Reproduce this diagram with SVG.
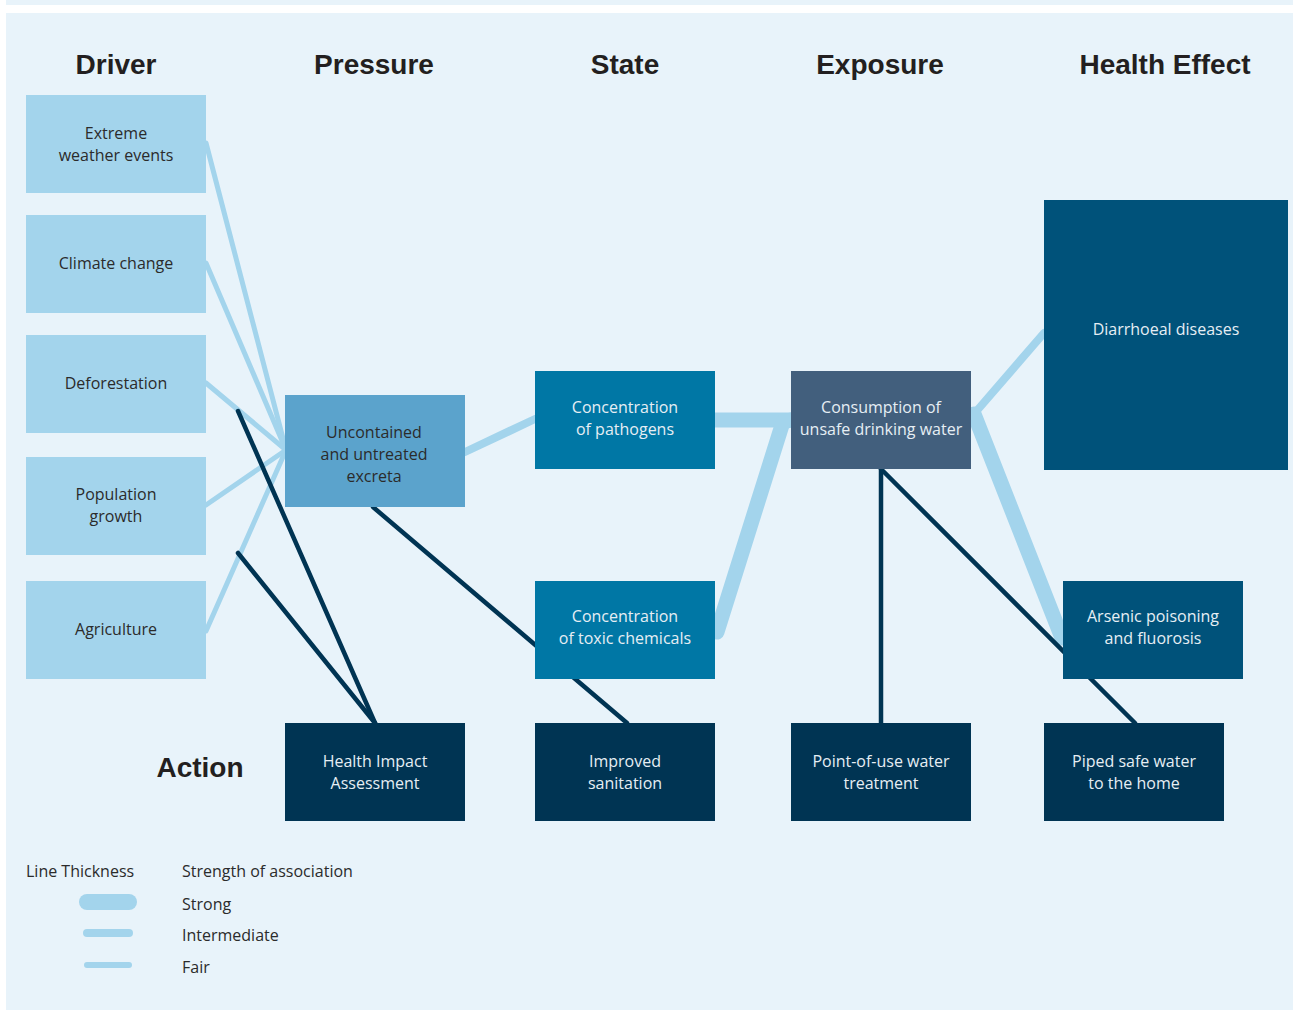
<svg xmlns="http://www.w3.org/2000/svg" width="1293" height="1010" viewBox="0 0 1293 1010">
<style>
.hdr{font-family:"Liberation Sans",Arial,sans-serif;font-weight:bold;font-size:28px;fill:#231f20;text-anchor:middle}
.t{font-family:"Open Sans","Liberation Sans",sans-serif;font-size:16px;text-anchor:middle}
.dk{fill:#2b2b2b}
.lt{fill:#e6eef4}
.leg{font-family:"Open Sans","Liberation Sans",sans-serif;font-size:16px;fill:#2b2b2b}
.drv{fill:#a3d4ec}
.light{stroke:#a3d4ec;fill:none;stroke-linecap:round}
.dark{stroke:#003453;fill:none;stroke-width:4.5;stroke-linecap:round}
.fair{stroke-width:5}
.inter{stroke-width:8}
.strong{stroke-width:15}
</style>
<rect x="6" y="0" width="1287" height="5" fill="#e8f3fa"/>
<rect x="6" y="13" width="1287" height="997" fill="#e8f3fa"/>
<g id="headers">
<text class="hdr" x="116" y="74">Driver</text>
<text class="hdr" x="374" y="74">Pressure</text>
<text class="hdr" x="625" y="74">State</text>
<text class="hdr" x="880" y="74">Exposure</text>
<text class="hdr" x="1165" y="74">Health Effect</text>
<text class="hdr" x="200" y="777">Action</text>
</g>
<g id="connectors">
<line class="light fair" x1="206" y1="143" x2="286" y2="450"/>
<line class="light fair" x1="206" y1="263" x2="286" y2="450"/>
<line class="light fair" x1="206" y1="383" x2="286" y2="450"/>
<line class="light fair" x1="206" y1="505" x2="286" y2="450"/>
<line class="light fair" x1="206" y1="631" x2="286" y2="450"/>
<line class="light inter" x1="465" y1="452" x2="535" y2="419"/>
<line class="light strong" x1="715" y1="420" x2="791" y2="420"/>
<polyline class="light strong" points="717,632 783,422 791,420" stroke-linejoin="round"/>
<line class="light inter" x1="974" y1="414" x2="1044" y2="333"/>
<line class="light strong" x1="974" y1="414" x2="1062" y2="638"/>
<line class="dark" x1="238" y1="411" x2="375" y2="723"/>
<line class="dark" x1="238" y1="553" x2="375" y2="723"/>
<line class="dark" x1="373" y1="507" x2="627" y2="723"/>
<line class="dark" x1="881" y1="469" x2="881" y2="723"/>
<line class="dark" x1="881" y1="469" x2="1135" y2="723"/>
</g>
<g id="n-extreme"><rect class="drv" x="26" y="95" width="180" height="98"/><text class="t dk" x="116" y="139">Extreme</text><text class="t dk" x="116" y="161">weather events</text></g>
<g id="n-climate"><rect class="drv" x="26" y="215" width="180" height="98"/><text class="t dk" x="116" y="269">Climate change</text></g>
<g id="n-deforestation"><rect class="drv" x="26" y="335" width="180" height="98"/><text class="t dk" x="116" y="389">Deforestation</text></g>
<g id="n-population"><rect class="drv" x="26" y="457" width="180" height="98"/><text class="t dk" x="116" y="500">Population</text><text class="t dk" x="116" y="522">growth</text></g>
<g id="n-agriculture"><rect class="drv" x="26" y="581" width="180" height="98"/><text class="t dk" x="116" y="635">Agriculture</text></g>
<g id="n-excreta"><rect x="285" y="395" width="180" height="112" fill="#5ba3cc"/><text class="t dk" x="374" y="438">Uncontained</text><text class="t dk" x="374" y="460">and untreated</text><text class="t dk" x="374" y="482">excreta</text></g>
<g id="n-pathogens"><rect x="535" y="371" width="180" height="98" fill="#0077a5"/><text class="t lt" x="625" y="413">Concentration</text><text class="t lt" x="625" y="435">of pathogens</text></g>
<g id="n-toxic"><rect x="535" y="581" width="180" height="98" fill="#0077a5"/><text class="t lt" x="625" y="622">Concentration</text><text class="t lt" x="625" y="644">of toxic chemicals</text></g>
<g id="n-consumption"><rect x="791" y="371" width="180" height="98" fill="#425f7d"/><text class="t lt" x="881" y="413">Consumption of</text><text class="t lt" x="881" y="435">unsafe drinking water</text></g>
<g id="n-diarrhoeal"><rect x="1044" y="200" width="244" height="270" fill="#00527a"/><text class="t lt" x="1166" y="335">Diarrhoeal diseases</text></g>
<g id="n-arsenic"><rect x="1063" y="581" width="180" height="98" fill="#00527a"/><text class="t lt" x="1153" y="622">Arsenic poisoning</text><text class="t lt" x="1153" y="644">and fluorosis</text></g>
<g id="n-hia"><rect x="285" y="723" width="180" height="98" fill="#003453"/><text class="t lt" x="375" y="767">Health Impact</text><text class="t lt" x="375" y="789">Assessment</text></g>
<g id="n-sanitation"><rect x="535" y="723" width="180" height="98" fill="#003453"/><text class="t lt" x="625" y="767">Improved</text><text class="t lt" x="625" y="789">sanitation</text></g>
<g id="n-pou"><rect x="791" y="723" width="180" height="98" fill="#003453"/><text class="t lt" x="881" y="767">Point-of-use water</text><text class="t lt" x="881" y="789">treatment</text></g>
<g id="n-piped"><rect x="1044" y="723" width="180" height="98" fill="#003453"/><text class="t lt" x="1134" y="767">Piped safe water</text><text class="t lt" x="1134" y="789">to the home</text></g>
<g id="legend">
<text class="leg" x="26" y="877">Line Thickness</text>
<text class="leg" x="182" y="877">Strength of association</text>
<line class="light" stroke-width="16" x1="87" y1="902" x2="129" y2="902"/>
<line class="light" stroke-width="8" x1="87" y1="933" x2="129" y2="933"/>
<line class="light" stroke-width="6" x1="87" y1="965" x2="129" y2="965"/>
<text class="leg" x="182" y="910">Strong</text>
<text class="leg" x="182" y="941">Intermediate</text>
<text class="leg" x="182" y="973">Fair</text>
</g>
</svg>
